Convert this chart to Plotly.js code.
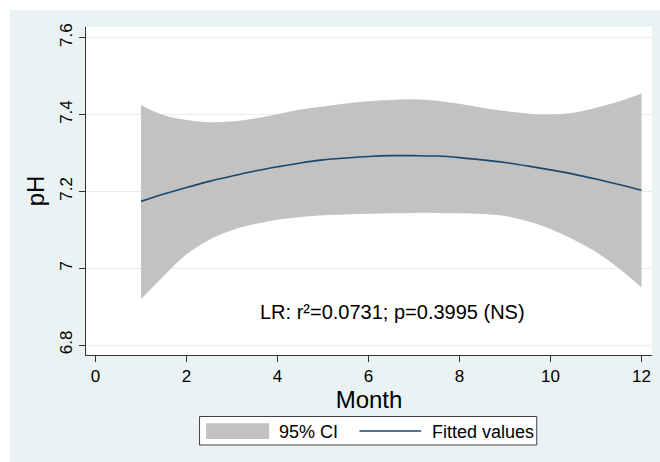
<!DOCTYPE html>
<html>
<head>
<meta charset="utf-8">
<script src="https://cdn.plot.ly/plotly-3.0.1.min.js"></script>
<style>html,body{margin:0;padding:0;background:#fff;}#chart{width:660px;height:462px;}</style>
</head>
<body>
<div id="chart"></div>
<script>
// Month values at which the band and fit were read
const months = [1, 1.5, 2, 2.5, 3, 3.5, 4, 4.5, 5, 5.5, 6, 6.5, 7, 7.5, 8, 8.5, 9, 9.5, 10, 10.5, 11, 11.5, 12];
// Upper 95% CI of pH
const ciUpper = [7.424, 7.398, 7.386, 7.380, 7.382, 7.390, 7.401, 7.413, 7.421, 7.429, 7.435, 7.438, 7.440, 7.436, 7.428, 7.418, 7.409, 7.403, 7.400, 7.405, 7.418, 7.434, 7.455];
// Lower 95% CI of pH
const ciLower = [6.920, 6.980, 7.036, 7.074, 7.099, 7.115, 7.126, 7.133, 7.138, 7.140, 7.142, 7.143, 7.144, 7.144, 7.143, 7.141, 7.136, 7.122, 7.102, 7.075, 7.042, 7.000, 6.950];
// Fitted values of pH
const fitted = [7.174, 7.193, 7.210, 7.226, 7.240, 7.253, 7.264, 7.274, 7.282, 7.287, 7.291, 7.293, 7.293, 7.292, 7.288, 7.282, 7.275, 7.266, 7.256, 7.245, 7.232, 7.218, 7.203];
const xTicks = [0, 2, 4, 6, 8, 10, 12];
const yTicks = [6.8, 7, 7.2, 7.4, 7.6];
const yTickLabels = ["6.8", "7", "7.2", "7.4", "7.6"];
const seriesNames = ["95% CI", "Fitted values"];
const annotationText = "LR: r\u00b2=0.0731; p=0.3995 (NS)";

const FONT = '"Liberation Sans", Arial, sans-serif';
const CI_COLOR = '#C2C2C2';
const LINE_COLOR = '#1A476F';

const traces = [
  {x: months, y: ciLower, mode: 'lines', line: {width: 0, color: CI_COLOR, shape: 'spline'}, showlegend: false, hoverinfo: 'skip'},
  {x: months, y: ciUpper, mode: 'lines', fill: 'tonexty', fillcolor: CI_COLOR, line: {width: 0, color: CI_COLOR, shape: 'spline'}, name: seriesNames[0], showlegend: false},
  {x: months, y: fitted, mode: 'lines', line: {width: 1.6, color: LINE_COLOR, shape: 'spline'}, name: seriesNames[1], showlegend: false}
];

// plot area: x 86..651.7 px, y 27..355 px
const px = v => (v - 86) / 565.7;
const py = v => (355 - v) / 328;

const layout = {
  width: 660, height: 462,
  margin: {l: 86, r: 8, t: 27, b: 107, pad: 0},
  paper_bgcolor: '#ffffff',
  plot_bgcolor: 'rgba(0,0,0,0)',
  font: {family: FONT, size: 16, color: '#000'},
  xaxis: {
    range: [-0.21, 12.23], tickvals: xTicks, ticks: 'outside', ticklen: 6, tickcolor: '#333',
    showline: true, linecolor: '#333', linewidth: 1, showgrid: false, zeroline: false,
    tickfont: {size: 17, family: FONT},
    title: {text: 'Month', font: {size: 24, family: FONT}, standoff: 0}
  },
  yaxis: {
    range: [6.774, 7.628], tickvals: yTicks, ticktext: yTickLabels, ticks: 'outside', ticklen: 6, tickcolor: '#333',
    tickangle: -90, showline: true, linecolor: '#333', linewidth: 1,
    showgrid: true, gridcolor: '#E4EDEF', gridwidth: 1, zeroline: false,
    tickfont: {size: 17, family: FONT},
    title: {text: 'pH', font: {size: 24, family: FONT}, standoff: 5}
  },
  shapes: [
    {type: 'rect', xref: 'paper', yref: 'paper', x0: px(10), x1: px(662), y0: py(464), y1: py(10), fillcolor: '#EAF2F3', line: {width: 0}, layer: 'below'},
    {type: 'rect', xref: 'paper', yref: 'paper', x0: 0, x1: 1, y0: 0, y1: 1, fillcolor: '#ffffff', line: {width: 0}, layer: 'below'},
    // legend box and keys
    {type: 'rect', xref: 'paper', yref: 'paper', x0: px(199.5), x1: px(536.5), y0: py(445), y1: py(416.5), fillcolor: '#ffffff', line: {width: 1, color: '#404040'}, layer: 'above'},
    {type: 'rect', xref: 'paper', yref: 'paper', x0: px(206), x1: px(269), y0: py(439), y1: py(423.3), fillcolor: CI_COLOR, line: {width: 0}, layer: 'above'},
    {type: 'line', xref: 'paper', yref: 'paper', x0: px(359.3), x1: px(421), y0: py(431), y1: py(431), line: {width: 1.6, color: LINE_COLOR}, layer: 'above'}
  ],
  annotations: [
    {x: 6.52, y: 6.887, xref: 'x', yref: 'y', text: annotationText, showarrow: false, font: {size: 20, family: FONT, color: '#000'}},
    {x: px(276.5), y: py(431.5), xref: 'paper', yref: 'paper', xanchor: 'left', yanchor: 'middle', text: seriesNames[0], showarrow: false, font: {size: 18, family: FONT, color: '#000'}},
    {x: px(430), y: py(431.5), xref: 'paper', yref: 'paper', xanchor: 'left', yanchor: 'middle', text: seriesNames[1], showarrow: false, font: {size: 18, family: FONT, color: '#000'}}
  ],
  showlegend: false
};

Plotly.newPlot('chart', traces, layout, {displayModeBar: false, staticPlot: true});
</script>
</body>
</html>
